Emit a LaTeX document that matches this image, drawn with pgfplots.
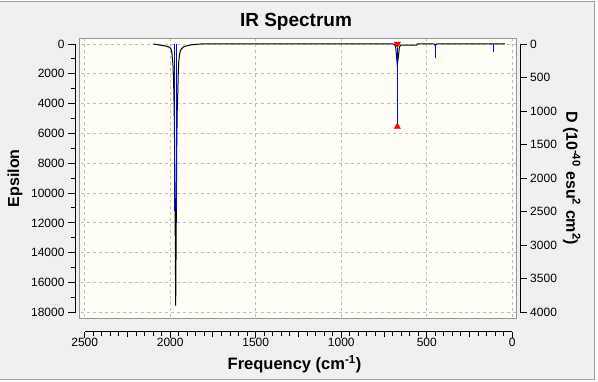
\documentclass[border=0pt]{standalone}
\usepackage{fontspec}
\setmainfont{Liberation Sans}
\usepackage{pgfplots}
\pgfplotsset{compat=1.18}
\definecolor{winbg}{RGB}{240,240,240}
\definecolor{winborder}{RGB}{160,160,160}
\definecolor{plotbg}{RGB}{255,255,247}
\definecolor{gridc}{RGB}{190,190,190}
\definecolor{framec}{RGB}{150,150,150}
\pgfplotsset{
  tickfont/.style={font=\fontsize{12}{14}\selectfont},
}
\begin{document}
\begin{tikzpicture}[x=1pt,y=1pt]
\useasboundingbox (0,0) rectangle (598,381);
\fill[white] (0,0) rectangle (598,381);
\filldraw[fill=winbg, draw=winborder, line width=1pt] (-2,1.7) rectangle (594.5,379.3);

% frame + epsilon curve
\begin{axis}[
  at={(79.5pt,62.8pt)}, anchor=south west, scale only axis,
  width=437pt, height=279.9pt,
  xmin=-24.6, xmax=2530.4, x dir=reverse,
  ymin=-382, ymax=18395, y dir=reverse,
  xtick={0,500,...,2500}, ytick={0,2000,...,18000},
  xticklabels={}, yticklabels={}, major tick length=0pt,
  scaled ticks=false,
  grid=major, grid style={gridc, dash pattern=on 3pt off 3pt, line width=0.8pt},
  axis background/.style={fill=plotbg},
  axis line style={framec, line width=1.2pt},
  title={\bfseries IR Spectrum},
  title style={at={(0.5,1)}, anchor=center, yshift=10.3pt, xshift=-2pt, font=\fontsize{19}{22}\selectfont},
]
\addplot[black, line width=1pt] table {
f eps
2099 0
2085 20
2070 50
2050 90
2030 130
2010 190
1998 290
1992 450
1989 740
1984 1400
1980 2600
1977 4300
1974 7200
1971 12000
1968 17550
1965 12500
1962 7000
1959 4500
1956 3400
1953 2000
1950 1200
1946 740
1940 420
1931 290
1920 180
1904 130
1880 60
1845 20
1820 0
700 0
690 30
684 120
681 290
678 700
675 1070
672 1420
669 1100
665 740
661 300
656 120
650 70
560 70
555 0
458 0
452 60
450 130
448 60
442 0
43 0
};
\end{axis}

% sticks in D units
\begin{axis}[
  at={(79.5pt,62.8pt)}, anchor=south west, scale only axis,
  width=437pt, height=279.9pt,
  xmin=-24.6, xmax=2530.4, x dir=reverse,
  ymin=-84.89, ymax=4087.78, y dir=reverse,
  hide axis, clip=false,
]
\addplot[blue, ycomb, line width=1.2pt] table {
f D
2079 12
1974 2484
1964 2484
672 1233
450 204
111 115
};
\addplot[only marks, red, mark=triangle*, mark size=3.6pt, mark options={rotate=180}] coordinates {(672,0)};
\addplot[only marks, red, mark=triangle*, mark size=3.6pt] coordinates {(672,1233)};
\end{axis}

% left axis
\begin{axis}[
  at={(76pt,68.7pt)}, anchor=south west, scale only axis,
  width=444.3pt, height=268.3pt,
  xmin=0, xmax=1, ymin=0, ymax=18000, y dir=reverse,
  axis x line=none, axis y line=left,
  axis line style={black, line width=1pt, -},
  ytick={0,2000,...,18000}, minor ytick={1000,3000,...,17000},
  scaled y ticks=false,
  tick align=outside, major tick length=8pt, minor tick length=4.5pt,
  every tick/.style={black, line width=1pt},
  yticklabel style={tickfont},
  /pgf/number format/assume math mode=true, /pgf/number format/1000 sep={},
  /pgf/number format/fixed,
  ylabel={\bfseries Epsilon},
  every axis y label/.style={at={(axis description cs:-0.1373,0.5)}, rotate=90, anchor=center, font=\fontsize{16}{18}\selectfont},
]
\end{axis}

% right axis
\begin{axis}[
  at={(76pt,68.7pt)}, anchor=south west, scale only axis,
  width=444.3pt, height=268.3pt,
  xmin=0, xmax=1, ymin=0, ymax=4000, y dir=reverse,
  axis x line=none, axis y line=right,
  axis line style={black, line width=1pt, -},
  ytick={0,500,...,4000},
  scaled y ticks=false,
  tick align=outside, major tick length=6.4pt,
  every tick/.style={black, line width=1pt},
  yticklabel style={tickfont},
  /pgf/number format/assume math mode=true, /pgf/number format/1000 sep={},
  ylabel={\bfseries D (10\textsuperscript{-40} esu\textsuperscript{2} cm\textsuperscript{2})},
  every axis y label/.style={at={(axis description cs:1.1157,0.5)}, rotate=-90, anchor=center, font=\fontsize{16}{18}\selectfont},
]
\end{axis}

% bottom axis
\begin{axis}[
  at={(84.7pt,49.3pt)}, anchor=south west, scale only axis,
  width=427.6pt, height=10pt,
  xmin=0, xmax=2500, x dir=reverse, ymin=0, ymax=1,
  axis y line=none, axis x line=bottom,
  axis line style={black, line width=1pt, -},
  xtick={0,500,...,2500}, minor x tick num=9,
  scaled x ticks=false,
  extra x ticks={250,750,1250,1750,2250}, extra x tick labels={},
  extra x tick style={major tick length=5.6pt},
  tick align=outside, major tick length=6.6pt, minor tick length=4.3pt,
  every tick/.style={black, line width=1pt},
  xticklabel style={tickfont, yshift=4pt},
  /pgf/number format/assume math mode=true, /pgf/number format/1000 sep={},
  xlabel={\bfseries Frequency (cm\textsuperscript{-1})},
  every axis x label/.style={at={(axis description cs:0.5,0)}, anchor=center, yshift=-32.3pt, xshift=-4pt, font=\fontsize{16.5}{18}\selectfont},
]
\end{axis}
\end{tikzpicture}
\end{document}
